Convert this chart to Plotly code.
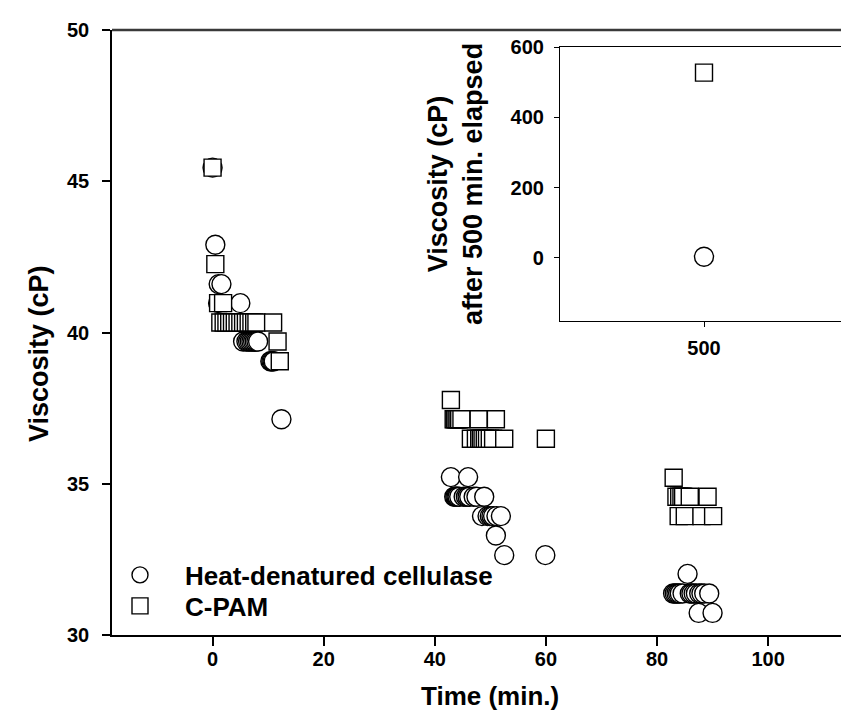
import plotly.graph_objects as go

# ---------------- data ----------------
cell_time = [0.0, 0.5, 1.1, 1.6, 1.0, 5.0,
             5.5, 6.1, 6.4, 6.7, 7.0, 7.3, 7.6, 7.9, 8.2,
             10.4, 10.6, 10.8, 11.0, 12.4,
             42.9, 46.0,
             43.5, 43.7, 43.9, 44.1, 44.4, 45.2, 45.6, 45.9, 46.2, 47.0, 47.5, 48.9,
             48.5, 49.5, 49.9, 50.2, 50.5, 51.1, 51.9,
             51.0, 52.5, 59.9,
             85.5,
             82.9, 83.2, 83.5, 83.8, 84.1, 84.6, 85.9, 86.2, 86.6, 87.0, 87.6, 88.0, 88.5, 89.4,
             87.5, 90.0]
cell_visc = [45.45, 42.90, 41.60, 41.60, 40.97, 40.97,
             39.70, 39.70, 39.70, 39.70, 39.70, 39.70, 39.70, 39.70, 39.70,
             39.05, 39.05, 39.05, 39.05, 37.13,
             35.22, 35.22,
             34.57, 34.57, 34.57, 34.57, 34.57, 34.57, 34.57, 34.57, 34.57, 34.57, 34.57, 34.57,
             33.93, 33.93, 33.93, 33.93, 33.93, 33.93, 33.93,
             33.29, 32.64, 32.64,
             32.02,
             31.37, 31.37, 31.37, 31.37, 31.37, 31.37, 31.37, 31.37, 31.37, 31.37, 31.37, 31.37, 31.37, 31.37,
             30.73, 30.73]

cpam_time = [0.0, 0.5, 1.0, 1.9,
             1.4, 2.0, 2.5, 3.0, 3.5, 4.0, 4.5, 5.0, 5.5, 6.0, 6.5, 7.0, 7.5, 7.9, 10.9,
             11.7, 12.1,
             42.9,
             43.4, 43.6, 43.9, 44.1, 44.4, 44.8, 47.9, 51.0,
             46.5, 47.4, 48.0, 48.3, 48.6, 49.0, 49.4, 49.9, 50.5, 52.5,
             60.0,
             83.0,
             83.5, 84.0, 84.4, 84.7, 85.9, 89.1,
             83.9, 85.0, 88.0, 90.1]
cpam_visc = [45.45, 42.26, 40.97, 40.97,
             40.33, 40.33, 40.33, 40.33, 40.33, 40.33, 40.33, 40.33, 40.33, 40.33, 40.33, 40.33, 40.33, 40.33, 40.33,
             39.70, 39.05,
             37.77,
             37.13, 37.13, 37.13, 37.13, 37.13, 37.13, 37.13, 37.13,
             36.49, 36.49, 36.49, 36.49, 36.49, 36.49, 36.49, 36.49, 36.49, 36.49,
             36.49,
             35.20,
             34.57, 34.57, 34.57, 34.57, 34.57, 34.57,
             33.93, 33.93, 33.93, 33.93]

inset_time = [500]
inset_cell = [3]
inset_cpam = [527]

main_xticks = [0, 20, 40, 60, 80, 100]
main_yticks = [30, 35, 40, 45, 50]
inset_yticks = [0, 200, 400, 600]
inset_xticks = [500]

series_names = ["Heat-denatured cellulase", "C-PAM"]

# ---------------- figure ----------------
FONT = "Arial, Liberation Sans, sans-serif"
W, H = 849, 724
ML, MR, MT, MB = 104, 0, 22, 97

circ = dict(symbol="circle", size=19, color="white", line=dict(color="black", width=1.4))
sq = dict(symbol="square", size=17, color="white", line=dict(color="black", width=1.4))

fig = go.Figure()
fig.add_trace(go.Scatter(x=cell_time, y=cell_visc, mode="markers", marker=circ,
                         name=series_names[0], legend="legend", showlegend=True))
fig.add_trace(go.Scatter(x=cpam_time, y=cpam_visc, mode="markers", marker=sq,
                         name=series_names[1], legend="legend2", showlegend=True))
fig.add_trace(go.Scatter(x=inset_time, y=inset_cell, mode="markers", marker=circ,
                         xaxis="x2", yaxis="y2", showlegend=False))
fig.add_trace(go.Scatter(x=inset_time, y=inset_cpam, mode="markers", marker=sq,
                         xaxis="x2", yaxis="y2", showlegend=False))

tickfont = dict(family=FONT, size=20, color="black", weight="bold")

pw = W - ML - MR
ph = H - MT - MB


def px_x(p):
    return (p - ML) / pw


def px_y(p):
    return (H - MB - p) / ph


legfont = dict(family=FONT, size=26, color="black", weight="bold")

fig.update_layout(
    width=W, height=H,
    margin=dict(l=ML, r=MR, t=MT, b=MB),
    paper_bgcolor="white", plot_bgcolor="white",
    xaxis=dict(range=[-18.1, 116.0], tickvals=main_xticks, ticks="outside", ticklen=9,
               tickwidth=1.5, tickcolor="black", showline=True, linecolor="black",
               linewidth=1.5, showgrid=False, zeroline=False, tickfont=tickfont,
               ticklabelstandoff=-4),
    yaxis=dict(range=[30, 50], tickvals=main_yticks, ticks="outside", ticklen=8,
               tickwidth=1.5, tickcolor="black", showline=True, linecolor="black",
               linewidth=1.5, showgrid=False, zeroline=False, tickfont=tickfont,
               ticklabelstandoff=9),
    xaxis2=dict(domain=[px_x(552), px_x(840)], anchor="y2", range=[400, 600],
                tickvals=inset_xticks, ticks="outside", ticklen=5, tickwidth=1,
                tickcolor="black", showline=True, mirror=True, linecolor="black",
                linewidth=1.2, showgrid=False, zeroline=False, tickfont=tickfont,
                ticklabelstandoff=4),
    yaxis2=dict(domain=[px_y(313), px_y(39)], anchor="x2", range=[-180, 600],
                tickvals=inset_yticks, ticks="outside", ticklen=5, tickwidth=1,
                tickcolor="black", showline=True, mirror=True, linecolor="black",
                linewidth=1.2, showgrid=False, zeroline=False, tickfont=tickfont,
                ticklabelstandoff=6),
    legend=dict(x=px_x(87), y=px_y(567), xanchor="left", yanchor="middle",
                font=legfont, itemwidth=80, bgcolor="rgba(0,0,0,0)", borderwidth=0),
    legend2=dict(x=px_x(87), y=px_y(598), xanchor="left", yanchor="middle",
                 font=legfont, itemwidth=80, bgcolor="rgba(0,0,0,0)", borderwidth=0),
    shapes=[dict(type="line", xref="paper", yref="paper", x0=0, x1=1, y0=1, y1=1,
                 line=dict(color="#3a3a3a", width=2.5))],
    annotations=[
        dict(text="Viscosity (cP)", xref="paper", yref="paper", x=px_x(31), y=px_y(346),
             xanchor="center", yanchor="middle", textangle=-90, showarrow=False,
             font=dict(family=FONT, size=27, color="black", weight="bold")),
        dict(text="Time (min.)", xref="paper", yref="paper", x=px_x(482), y=px_y(688),
             xanchor="center", yanchor="middle", showarrow=False,
             font=dict(family=FONT, size=26, color="black", weight="bold")),
        dict(text="Viscosity (cP)<br>after 500 min. elapsed", xref="paper", yref="paper",
             x=px_x(448), y=px_y(176), xanchor="center", yanchor="middle", textangle=-90,
             showarrow=False, align="center",
             font=dict(family=FONT, size=27, color="black", weight="bold")),
    ],
)

fig.write_html("out.html")
